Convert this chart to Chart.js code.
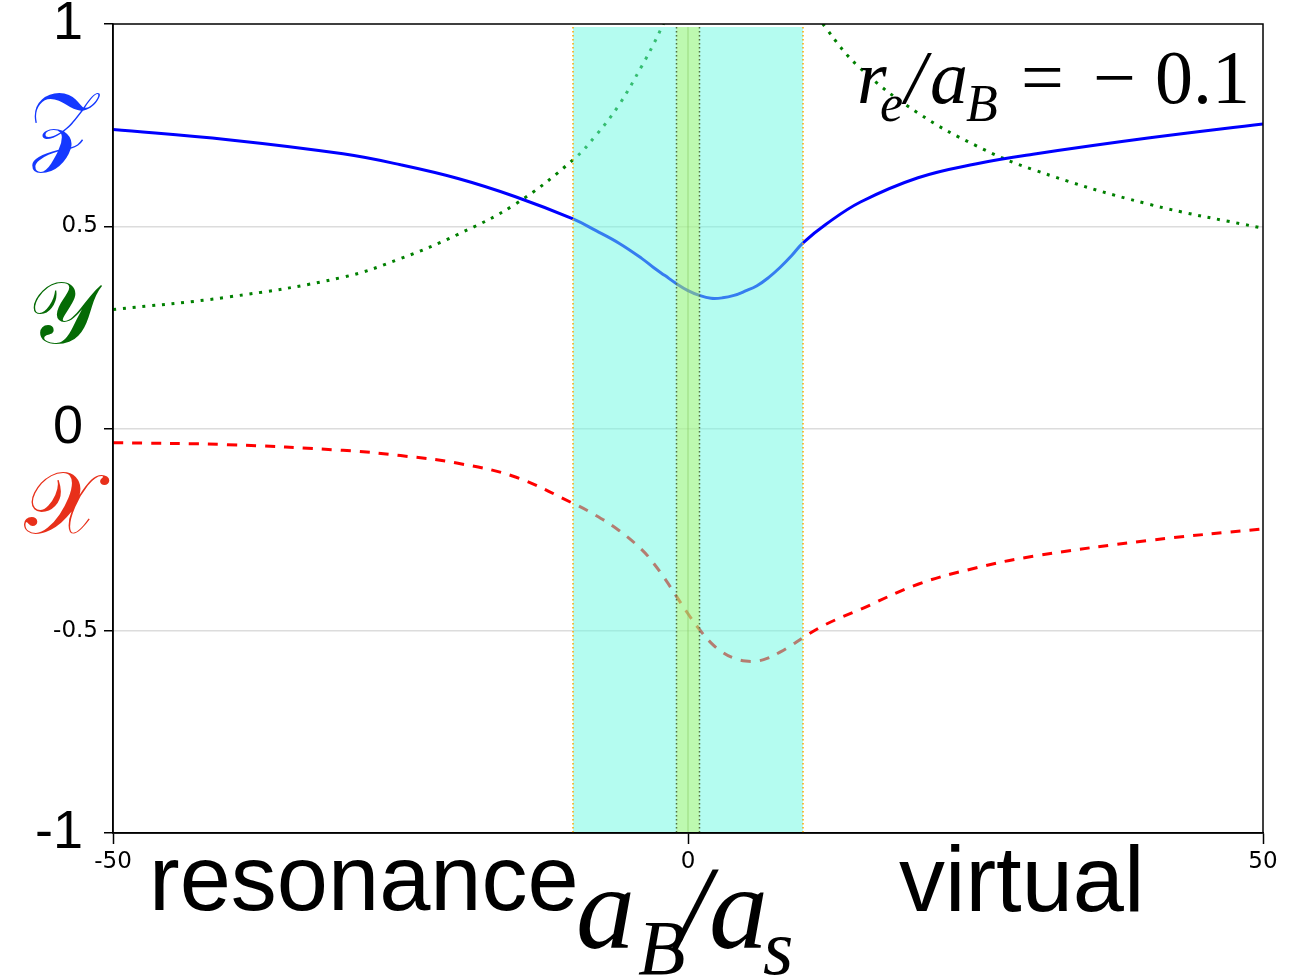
<!DOCTYPE html>
<html><head><meta charset="utf-8">
<script src="https://cdn.jsdelivr.net/npm/chart.js@4/dist/chart.umd.min.js"></script>
<style>html,body{margin:0;padding:0;background:#fff}#wrap{width:1299px;height:976px}</style>
</head><body><div id="wrap"><canvas id="c" width="1299" height="976"></canvas></div>
<script>
// ---- data ----
const xValues = [-50,-40,-30,-25,-20,-15,-10,-8,-6,-4,-3,-2,-1,0,1,2,3,4,5,6,7,8,9,10,12,15,20,25,30,40,50];
const zSeries = [0.739,0.714,0.679,0.652,0.618,0.573,0.518,0.489,0.458,0.42,0.398,0.378,0.358,0.341,0.329,0.322,0.323,0.329,0.34,0.353,0.373,0.398,0.427,0.459,0.505,0.56,0.62,0.654,0.678,0.718,0.753];
const ySeries = [0.294,0.325,0.374,0.42,0.48,0.555,0.664,0.725,0.80,0.897,0.95,1.01,1.08,1.16,1.24,1.3,1.34,1.36,1.36,1.33,1.28,1.22,1.15,1.08,0.99,0.89,0.78,0.70,0.64,0.555,0.495];
const xSeries = [-0.035,-0.040,-0.054,-0.067,-0.086,-0.120,-0.185,-0.215,-0.252,-0.30,-0.333,-0.372,-0.415,-0.458,-0.497,-0.53,-0.553,-0.568,-0.575,-0.575,-0.567,-0.553,-0.536,-0.517,-0.484,-0.447,-0.385,-0.345,-0.316,-0.277,-0.248];
const xTickValues = [-50, 0, 50];
const xTickLabels = ['-50', '0', '50'];
const yTickValues = [-1, -0.5, 0, 0.5, 1];
const yTickLabels = ['-1 ', '-0.5', '0 ', '0.5', '1 '];
const resonanceBand = [-10, 10];
const innerBand = [-1, 1];
const seriesNames = ['𝒵', '𝒴', '𝒳'];
const seriesNameAt = [0.734, 0.267, -0.203];

const pts = arr => xValues.map((x, i) => ({x: x, y: arr[i]}));

const overlayPlugin = {
  id: 'overlay',
  afterDatasetsDraw(chart) {
    const {ctx, chartArea: a, scales: {x}} = chart;
    ctx.save();
    ctx.beginPath(); ctx.rect(a.left, a.top, a.right - a.left, a.bottom - a.top); ctx.clip();
    const bx0 = x.getPixelForValue(resonanceBand[0]), bx1 = x.getPixelForValue(resonanceBand[1]);
    ctx.fillStyle = 'rgba(105,249,225,0.5)';
    ctx.fillRect(bx0, a.top + 3, bx1 - bx0, a.bottom - a.top - 4);
    const gx0 = x.getPixelForValue(innerBand[0]), gx1 = x.getPixelForValue(innerBand[1]);
    ctx.fillStyle = 'rgba(205,245,70,0.38)';
    ctx.fillRect(gx0, a.top + 3, gx1 - gx0, a.bottom - a.top - 4);
    ctx.strokeStyle = 'rgba(120,190,80,0.5)'; ctx.lineWidth = 1;
    const x0 = x.getPixelForValue(0);
    ctx.beginPath(); ctx.moveTo(x0, a.top + 3); ctx.lineTo(x0, a.bottom); ctx.stroke();
    ctx.setLineDash([1.5, 2.5]); ctx.lineWidth = 1.5;
    ctx.strokeStyle = '#ffa500';
    [bx0, bx1].forEach(px => { ctx.beginPath(); ctx.moveTo(px, a.top + 3); ctx.lineTo(px, a.bottom); ctx.stroke(); });
    ctx.strokeStyle = '#4f6f3f';
    [gx0, gx1].forEach(px => { ctx.beginPath(); ctx.moveTo(px, a.top + 3); ctx.lineTo(px, a.bottom); ctx.stroke(); });
    ctx.restore();
  },
  afterDraw(chart) {
    const {ctx, chartArea: a, scales: {y}} = chart;
    ctx.save();
    ctx.strokeStyle = '#000'; ctx.lineWidth = 1.5;
    ctx.strokeRect(a.left, a.top, a.right - a.left, a.bottom - a.top);
    const cols = ['#1438ff', '#056b05', '#e8301a'];
    ctx.textAlign = 'center'; ctx.textBaseline = 'middle';
    seriesNames.forEach((s, i) => {
      ctx.fillStyle = cols[i];
      ctx.font = '88px "DejaVu Serif", "DejaVu Sans", serif';
      ctx.fillText(s, 62, y.getPixelForValue(seriesNameAt[i]));
    });
    ctx.fillStyle = '#000'; ctx.textAlign = 'left'; ctx.textBaseline = 'alphabetic';
    ctx.font = '92px "Liberation Sans", Arial, sans-serif';
    ctx.fillText('resonance', 149, 910);
    ctx.fillText('virtual', 899, 911);
    const big = 'italic 118px "Liberation Serif", serif', sub = 'italic 78px "Liberation Serif", serif';
    ctx.font = big; ctx.fillText('a', 576, 948);
    ctx.font = sub; ctx.fillText('B', 638, 974);
    ctx.font = big; ctx.fillText('/', 677, 948);
    ctx.fillText('a', 709, 948);
    ctx.font = sub; ctx.fillText('s', 763, 974);
    const ab = 'italic 76px "Liberation Serif", serif', as = 'italic 52px "Liberation Serif", serif', up = '76px "Liberation Serif", serif';
    ctx.font = ab; ctx.fillText('r', 857, 103);
    ctx.font = as; ctx.fillText('e', 880, 121);
    ctx.font = ab; ctx.fillText('/', 905, 103);
    ctx.fillText('a', 930, 103);
    ctx.font = as; ctx.fillText('B', 966, 121);
    ctx.font = up; ctx.fillText('=', 1021, 103);
    ctx.fillText('\u2212', 1093, 103);
    ctx.fillText('0.1', 1155, 103);
    ctx.restore();
  }
};

new Chart(document.getElementById('c'), {
  type: 'line',
  data: {
    datasets: [
      {label: 'Z', data: pts(zSeries), borderColor: '#0000ff', borderWidth: 3, pointRadius: 0, fill: false, tension: 0.4},
      {label: 'Y', data: pts(ySeries), borderColor: '#008000', borderWidth: 3, borderDash: [3, 6.8], pointRadius: 0, fill: false, tension: 0.4},
      {label: 'X', data: pts(xSeries), borderColor: '#ff0000', borderWidth: 3, borderDash: [10, 9], pointRadius: 0, fill: false, tension: 0.4}
    ]
  },
  options: {
    responsive: false, animation: false, devicePixelRatio: 1,
    layout: {padding: {top: 24, right: 36, left: 0, bottom: 0}},
    plugins: {legend: {display: false}, tooltip: {enabled: false}},
    scales: {
      x: {
        type: 'linear', min: -50, max: 50,
        afterFit: s => { s.height = 143; s.paddingLeft = 0; s.paddingRight = 0; },
        afterBuildTicks: s => { s.ticks = xTickValues.map(v => ({value: v})); },
        grid: {drawOnChartArea: false, drawTicks: true, tickLength: 11, tickColor: '#000', tickWidth: 1.5},
        border: {display: true, color: '#000', width: 1.5},
        ticks: {autoSkip: false, maxRotation: 0, padding: 4, color: '#000',
          font: {family: '"DejaVu Sans"', size: 23},
          callback: v => xTickLabels[xTickValues.indexOf(v)]}
      },
      y: {
        type: 'linear', min: -1, max: 1,
        afterFit: s => { s.width = 113; s.paddingTop = 0; s.paddingBottom = 0; },
        afterBuildTicks: s => { s.ticks = yTickValues.map(v => ({value: v})); },
        grid: {drawOnChartArea: true, color: c => (c.tick && Math.abs(c.tick.value) === 1) ? 'rgba(0,0,0,0)' : '#dcdcdc', lineWidth: 1.5,
          drawTicks: true, tickLength: 9, tickColor: '#000', tickWidth: 1.5},
        border: {display: true, color: '#000', width: 1.5},
        ticks: {autoSkip: false, padding: 6, color: '#000',
          font: c => (c.tick && Number.isInteger(c.tick.value)) ? {family: '"Liberation Sans"', size: 54} : {family: '"DejaVu Sans"', size: 23},
          callback: v => yTickLabels[yTickValues.indexOf(v)]}
      }
    }
  },
  plugins: [overlayPlugin]
});
</script></body></html>
